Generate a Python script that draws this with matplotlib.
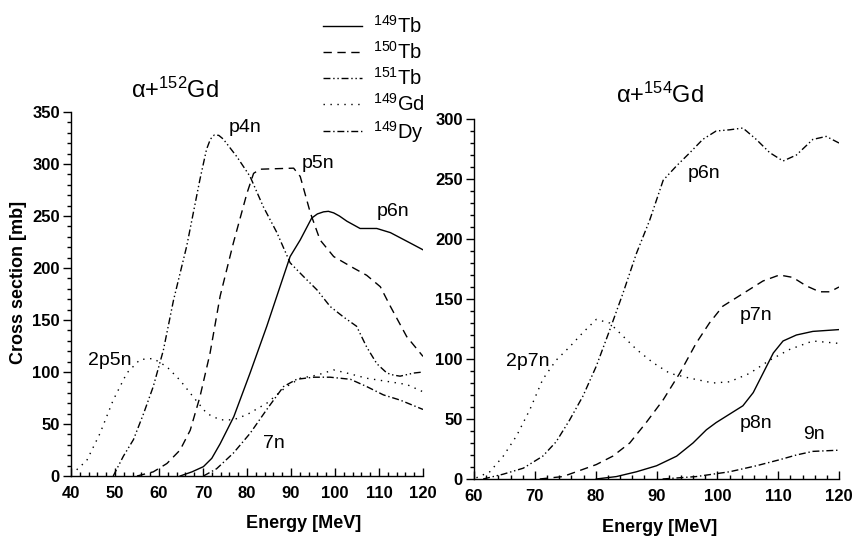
import matplotlib
matplotlib.use("Agg")
import matplotlib.pyplot as plt
from matplotlib.ticker import MultipleLocator

plt.rcParams['font.family'] = ['Liberation Sans', 'DejaVu Sans']
plt.rcParams['mathtext.fontset'] = 'custom'
plt.rcParams['mathtext.rm'] = 'Liberation Sans'
plt.rcParams['mathtext.it'] = 'Liberation Sans:italic'
plt.rcParams['mathtext.bf'] = 'Liberation Sans:bold'

# ---------------- alpha + 152Gd ----------------
gd152_tb149_E = [64.8, 67.5, 70.1, 72.0, 73.9, 77.0, 80.7, 84.5, 87.5, 89.8, 92.1, 94.7, 96.0, 97.4, 98.5, 99.7, 101.0, 102.7, 105.7, 109.5, 112.6, 117.1, 120.0]
gd152_tb149_s = [0, 4, 9, 17, 31, 57, 99, 144, 182, 211, 227, 248, 252, 254, 254.5, 253, 250, 245, 238, 238, 234, 224, 217.5]

gd152_tb150_E = [55.0, 58.7, 61.8, 64.8, 67.1, 69.3, 71.6, 73.9, 76.9, 80.0, 81.5, 83.0, 90.6, 92.1, 94.4, 96.6, 99.7, 104.2, 107.2, 110.3, 112.6, 116.3, 120.0]
gd152_tb150_s = [0, 4, 12, 25, 44, 76, 118, 173, 224, 272, 291, 295, 296, 288, 253, 227, 211, 200, 193, 182, 163, 134, 115]

gd152_tb151_E = [49.6, 51.9, 54.2, 56.5, 58.7, 61.0, 63.3, 66.3, 69.3, 70.8, 71.7, 72.6, 73.6, 74.6, 77.7, 80.7, 83.7, 86.8, 89.8, 92.8, 95.9, 98.9, 101.9, 104.9, 107.2, 109.5, 111.8, 113.3, 114.8, 117.9, 120.0]
gd152_tb151_s = [0, 19, 35, 60, 86, 121, 169, 221, 285, 314, 324, 328, 327.5, 324, 307, 288, 259, 234, 205, 192, 179, 163, 153, 144, 124, 108, 99, 97, 96, 99, 100]

gd152_gd149_E = [41.3, 43.6, 46.6, 49.6, 52.7, 55.7, 58.7, 61.8, 64.8, 67.8, 70.9, 73.9, 76.9, 80.0, 84.5, 89.0, 92.1, 95.9, 99.7, 102.7, 107.2, 111.8, 116.3, 120.0]
gd152_gd149_s = [6, 15, 41, 73, 99, 112, 113, 105, 92, 76, 60, 54, 54, 59, 70, 86, 94, 97, 102, 99, 94, 91, 88, 81]

gd152_dy149_E = [70.1, 73.1, 76.9, 80.7, 84.5, 88.3, 91.3, 95.1, 98.9, 103.5, 107.2, 111.0, 114.8, 120.0]
gd152_dy149_s = [0, 7, 22, 41, 64, 86, 93, 95, 95, 93, 86, 78, 73, 64]

# ---------------- alpha + 154Gd ----------------
gd154_tb149_E = [80.1, 83.4, 86.7, 90.0, 93.3, 96.0, 98.2, 99.8, 102.0, 104.2, 105.9, 107.5, 109.2, 110.8, 113.0, 115.7, 120.0]
gd154_tb149_s = [0, 2, 6, 11, 19, 30, 41, 47, 54, 61, 72, 88, 105, 115, 120, 123, 124.5]

gd154_tb150_E = [70.8, 74.6, 77.9, 80.1, 82.8, 85.6, 88.3, 91.1, 93.8, 96.5, 98.7, 100.9, 103.1, 105.3, 107.5, 110.2, 112.4, 114.6, 116.8, 118.5, 120.0]
gd154_tb150_s = [0, 2, 8, 12, 19, 30, 47, 66, 88, 113, 130, 144, 151, 158, 165, 170, 168, 161, 156, 156, 160]

gd154_tb151_E = [61.5, 64.8, 68.1, 71.3, 73.5, 75.7, 77.9, 80.1, 82.3, 84.5, 86.7, 88.9, 91.1, 93.3, 95.5, 97.6, 99.8, 102.0, 104.2, 106.4, 108.6, 110.8, 113.0, 115.7, 117.9, 120.0]
gd154_tb151_s = [0, 4, 9, 19, 31, 49, 69, 94, 124, 155, 188, 216, 249, 261, 272, 283, 290, 291, 292.5, 283, 272, 265, 270, 283, 285.5, 280]

gd154_gd149_E = [60.4, 62.6, 64.8, 67.0, 69.2, 71.3, 73.5, 75.7, 77.9, 80.1, 82.3, 84.5, 86.7, 89.4, 92.2, 95.5, 99.3, 102.0, 105.3, 108.6, 111.9, 115.7, 120.0]
gd154_gd149_s = [1, 6, 19, 36, 58, 83, 99, 110, 122, 133, 130, 119, 108, 97, 88, 84, 80, 81, 88, 99, 108, 115, 113]

gd154_dy149_E = [91.0, 96.5, 102.0, 106.4, 110.2, 113.0, 115.7, 120.0]
gd154_dy149_s = [0, 2, 6, 11, 16, 20, 23, 24]

legend_labels = [r'$^{149}$Tb', r'$^{150}$Tb', r'$^{151}$Tb', r'$^{149}$Gd', r'$^{149}$Dy']
left_title = r'α+$^{152}$Gd'
right_title = r'α+$^{154}$Gd'
left_ann = [('p4n', 75.8, 335), ('p5n', 92.5, 300), ('p6n', 109.5, 254), ('2p5n', 43.9, 111), ('7n', 83.7, 31)]
right_ann = [('p6n', 95.2, 255), ('p7n', 103.7, 136), ('2p7n', 65.3, 98), ('p8n', 103.7, 46), ('9n', 114.1, 37)]

styles = ['-', (0, (6, 4)), (0, (5, 2, 1, 2, 1, 2)), (0, (1, 4)), (0, (5, 2, 1, 2))]
lw = 1.0

fig = plt.figure(figsize=(8.53, 5.40), dpi=100)
axL = fig.add_axes([0.0832, 0.1185, 0.4127, 0.6741])
axR = fig.add_axes([0.5557, 0.1130, 0.4279, 0.6666])

left_data = [(gd152_tb149_E, gd152_tb149_s), (gd152_tb150_E, gd152_tb150_s), (gd152_tb151_E, gd152_tb151_s),
             (gd152_gd149_E, gd152_gd149_s), (gd152_dy149_E, gd152_dy149_s)]
right_data = [(gd154_tb149_E, gd154_tb149_s), (gd154_tb150_E, gd154_tb150_s), (gd154_tb151_E, gd154_tb151_s),
              (gd154_gd149_E, gd154_gd149_s), (gd154_dy149_E, gd154_dy149_s)]

handles = []
for (E, s), ls, lab in zip(left_data, styles, legend_labels):
    h, = axL.plot(E, s, color='black', lw=lw, linestyle=ls, label=lab)
    handles.append(h)
for (E, s), ls in zip(right_data, styles):
    axR.plot(E, s, color='black', lw=lw, linestyle=ls)

for ax, xlim, ylim in [(axL, (40, 120), (0, 350)), (axR, (60, 120), (0, 300))]:
    ax.set_xlim(*xlim)
    ax.set_ylim(*ylim)
    ax.spines['top'].set_visible(False)
    ax.spines['right'].set_visible(False)
    ax.spines['left'].set_linewidth(1.0)
    ax.spines['bottom'].set_linewidth(1.0)
    ax.xaxis.set_major_locator(MultipleLocator(10))
    ax.xaxis.set_minor_locator(MultipleLocator(2))
    ax.yaxis.set_major_locator(MultipleLocator(50))
    ax.yaxis.set_minor_locator(MultipleLocator(10))
    ax.tick_params(axis='x', which='major', direction='in', length=6, width=1, pad=7)
    ax.tick_params(axis='x', which='minor', direction='in', length=3, width=1)
    ax.tick_params(axis='y', which='major', direction='out', length=6, width=1, pad=2)
    ax.tick_params(axis='y', which='minor', direction='out', length=3, width=1)
    for t in ax.get_xticklabels() + ax.get_yticklabels():
        t.set_fontweight('bold')
        t.set_fontsize(12)

for txt, x, y in left_ann:
    axL.text(x, y, txt, fontsize=14, ha='left', va='center')
for txt, x, y in right_ann:
    axR.text(x, y, txt, fontsize=14, ha='left', va='center')

fig.text(175 / 853, 1 - 90 / 540, left_title, fontsize=17, ha='center', va='center')
fig.text(660 / 853, 1 - 95 / 540, right_title, fontsize=17, ha='center', va='center')

fig.text(304 / 853, 1 - 524 / 540, 'Energy [MeV]', fontsize=13, fontweight='bold', ha='center', va='center')
fig.text(660 / 853, 1 - 527 / 540, 'Energy [MeV]', fontsize=13, fontweight='bold', ha='center', va='center')
fig.text(19 / 853, 1 - 282 / 540, 'Cross section [mb]', fontsize=13, fontweight='bold', ha='center', va='center', rotation=90)

fig.legend(handles=handles, loc='upper left', bbox_to_anchor=(323 / 853, 1 - 15 / 540),
           frameon=False, fontsize=14.5, handlelength=1.95, handletextpad=0.55, labelspacing=0.2,
           borderaxespad=0, borderpad=0)

fig.savefig('out.png', dpi=100, facecolor='white')
